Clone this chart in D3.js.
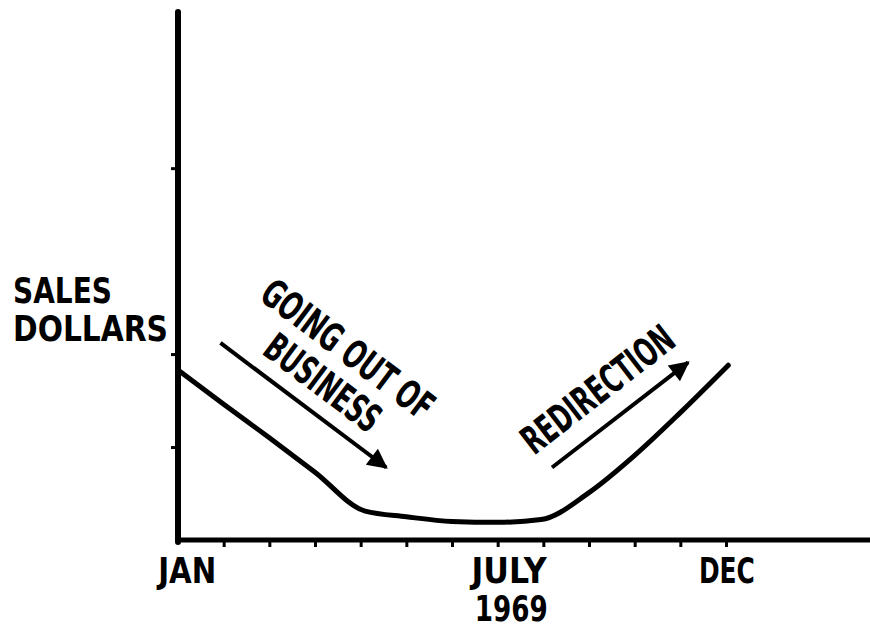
<!doctype html>
<html>
<head>
  <title>Sales Dollars 1969</title>
  <script src="https://d3js.org/d3.v7.min.js"></script>
  <style>
    body { margin:0; background:#fff; }
    text { font-family: "DejaVu Sans Condensed", "Liberation Sans Narrow", sans-serif; font-weight: bold; fill:#000; }
  </style>
</head>
<body>
  <script>
    // data (months from Jan, sales in tick units)
    var months = [0, 1, 2, 3, 4.1, 5, 6, 7, 7.95, 9, 10, 11, 12.05];
    var sales = [1.83, 1.46, 1.10, 0.73, 0.31, 0.25, 0.20, 0.19, 0.22, 0.51, 0.91, 1.37, 1.88];
    var monthTicks = [1, 2, 3, 4, 5, 6, 7, 8, 9, 10, 11, 12];
    var salesTicks = [1, 2, 4];
    var monthLabels = [
      {m: 0.2, row: 0, text: "JAN", w: 58},
      {m: 7.25, row: 0, text: "JULY", w: 75},
      {m: 7.3, row: 1, text: "1969", w: 73},
      {m: 12.02, row: 0, text: "DEC", w: 56}
    ];
    // annotation arrows and texts
    var arrows = [
      {from: [0.93, 2.12], to: [4.56, 0.78]},
      {from: [8.19, 0.78], to: [11.17, 1.91]}
    ];
    var notes = [
      {m: 3.72, v: 2.05, text: "GOING OUT OF", w: 205, arrow: 0},
      {m: 3.17, v: 1.69, text: "BUSINESS", w: 135, arrow: 0},
      {m: 9.19, v: 1.62, text: "REDIRECTION", w: 182, arrow: 1}
    ];

    var width = 870, height = 629;
    var svg = d3.select("body").append("svg")
      .attr("width", width)
      .attr("height", height);

    var x = d3.scaleLinear().domain([0, 12]).range([178, 726]);
    var y = d3.scaleLinear().domain([0, 5.68]).range([540, 12]);

    // x axis ticks
    svg.append("g")
      .attr("transform", "translate(0,540)")
      .call(d3.axisBottom(x).tickValues(monthTicks).tickSize(7).tickFormat(""))
      .call(function(g){
        g.select(".domain").remove();
        g.selectAll("line").attr("stroke", "#000").attr("stroke-width", 3);
      });

    // y axis ticks
    svg.append("g")
      .attr("transform", "translate(178,0)")
      .call(d3.axisLeft(y).tickValues(salesTicks).tickSize(7).tickFormat(""))
      .call(function(g){
        g.select(".domain").remove();
        g.selectAll("line").attr("stroke", "#000").attr("stroke-width", 3);
      });

    // axis lines
    svg.append("line")
      .attr("x1", 178).attr("x2", width)
      .attr("y1", y(0)).attr("y2", y(0))
      .attr("stroke", "#000").attr("stroke-width", 5);
    svg.append("line")
      .attr("x1", x(0)).attr("x2", x(0))
      .attr("y1", y(5.68)).attr("y2", y(0) + 2)
      .attr("stroke", "#000").attr("stroke-width", 6)
      .attr("stroke-linecap", "round");

    // sales line
    var line = d3.line()
      .x(function(d, i){ return x(months[i]); })
      .y(function(d){ return y(d); })
      .curve(d3.curveMonotoneX);
    svg.append("path")
      .attr("d", line(sales))
      .attr("fill", "none")
      .attr("stroke", "#000")
      .attr("stroke-width", 5)
      .attr("stroke-linecap", "round");

    // arrowhead
    svg.append("defs").append("marker")
      .attr("id", "head")
      .attr("viewBox", "0 0 10 10")
      .attr("refX", 9).attr("refY", 5)
      .attr("markerWidth", 6).attr("markerHeight", 5)
      .attr("markerUnits", "strokeWidth")
      .attr("orient", "auto")
      .append("path")
      .attr("d", "M0,0L10,5L0,10Z")
      .attr("fill", "#000");

    svg.selectAll(".arrow")
      .data(arrows)
      .enter()
      .append("line")
      .attr("class", "arrow")
      .attr("x1", function(d){ return x(d.from[0]); })
      .attr("y1", function(d){ return y(d.from[1]); })
      .attr("x2", function(d){ return x(d.to[0]); })
      .attr("y2", function(d){ return y(d.to[1]); })
      .attr("stroke", "#000")
      .attr("stroke-width", 4)
      .attr("marker-end", "url(#head)");

    // rotated notes, angle follows the arrows
    svg.selectAll(".note")
      .data(notes)
      .enter()
      .append("text")
      .attr("class", "note")
      .attr("text-anchor", "middle")
      .attr("dominant-baseline", "central")
      .attr("font-size", 39)
      .attr("textLength", function(d){ return d.w; })
      .attr("lengthAdjust", "spacingAndGlyphs")
      .attr("transform", function(d){
        var a = arrows[d.arrow];
        var ang = Math.atan2(y(a.to[1]) - y(a.from[1]), x(a.to[0]) - x(a.from[0])) * 180 / Math.PI;
        return "translate(" + x(d.m) + "," + y(d.v) + ") rotate(" + ang + ")";
      })
      .text(function(d){ return d.text; });

    // month labels
    svg.selectAll(".mlab")
      .data(monthLabels)
      .enter()
      .append("text")
      .attr("class", "mlab")
      .attr("text-anchor", "middle")
      .attr("font-size", 36)
      .attr("x", function(d){ return x(d.m); })
      .attr("y", function(d){ return 583 + d.row * 38; })
      .attr("textLength", function(d){ return d.w; })
      .attr("lengthAdjust", "spacingAndGlyphs")
      .text(function(d){ return d.text; });

    // y label
    svg.append("text")
      .attr("x", 13).attr("y", 303)
      .attr("font-size", 36)
      .attr("textLength", 99)
      .attr("lengthAdjust", "spacingAndGlyphs")
      .text("SALES");
    svg.append("text")
      .attr("x", 13).attr("y", 341)
      .attr("font-size", 36)
      .attr("textLength", 155)
      .attr("lengthAdjust", "spacingAndGlyphs")
      .text("DOLLARS");
  </script>
</body>
</html>
